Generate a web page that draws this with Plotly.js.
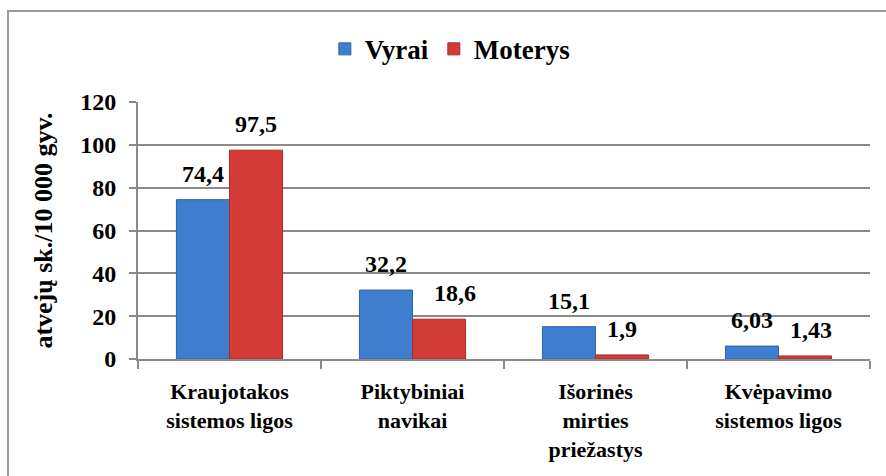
<!DOCTYPE html>
<html>
<head>
<meta charset="utf-8">
<script src="https://cdn.plot.ly/plotly-3.0.1.min.js"></script>
<style>
  html, body { margin: 0; padding: 0; background: #fff; }
  #wrap { position: relative; width: 886px; height: 476px; overflow: hidden; }
  #chart { position: absolute; left: 0; top: 0; width: 886px; height: 476px; }
  #frame { position: absolute; left: 7px; top: 10px; width: 900px; height: 500px;
           border-left: 2px solid #9a9a9a; border-top: 2px solid #9a9a9a; pointer-events: none; }
</style>
</head>
<body>
<div id="wrap">
  <div id="chart"></div>
  <div id="frame"></div>
</div>
<script>
const categories = [
  "Kraujotakos<br>sistemos ligos",
  "Piktybiniai<br>navikai",
  "Išorinės<br>mirties<br>priežastys",
  "Kvėpavimo<br>sistemos ligos"
];
const seriesNames = ["Vyrai", "Moterys"];
const vyrai = [74.4, 32.2, 15.1, 6.03];
const moterys = [97.5, 18.6, 1.9, 1.43];
const yTicks = [0, 20, 40, 60, 80, 100, 120];

const FONT = '"Liberation Serif", "Times New Roman", serif';
const BLUE = '#3f7dcf';
const RED = '#d23b36';

function fmt(v) { return String(v).replace('.', ','); }

const traces = [
  { type: 'bar', name: seriesNames[0], x: categories, y: vyrai,
    marker: { color: BLUE, line: { color: '#2f62a8', width: 1 } }, hoverinfo: 'skip' },
  { type: 'bar', name: seriesNames[1], x: categories, y: moterys,
    marker: { color: RED, line: { color: '#a82c28', width: 1 } }, hoverinfo: 'skip' }
];

const annotations = [];
const extraShift = [[0,0],[0,16],[0,0],[0,6]];
[vyrai, moterys].forEach((arr, s) => {
  arr.forEach((v, i) => {
    annotations.push({
      x: categories[i], y: v, xref: 'x', yref: 'y',
      text: '<b>' + fmt(v) + '</b>', showarrow: false,
      xanchor: 'center', yanchor: 'bottom',
      xshift: (s === 0 ? -26.5 : 26.5) + extraShift[i][s], yshift: 11,
      font: { family: FONT, size: 24, color: '#000' }
    });
  });
});

const layout = {
  width: 886, height: 476,
  margin: { l: 138, r: 16, t: 102, b: 117 },
  paper_bgcolor: 'rgba(0,0,0,0)',
  plot_bgcolor: 'rgba(0,0,0,0)',
  font: { family: FONT, color: '#000' },
  barmode: 'group',
  bargap: 0.42,
  bargroupgap: 0,
  showlegend: true,
  legend: {
    orientation: 'h', x: 0.426, xanchor: 'center', y: 1.205, yanchor: 'middle',
    font: { family: FONT, size: 27, color: '#000', weight: 'bold' },
    itemwidth: 30, tracegroupgap: 0
  },
  xaxis: {
    type: 'category',
    tickfont: { family: FONT, size: 22, color: '#000', weight: 'bold' },
    showline: true, linecolor: '#8a8a8a', linewidth: 2,
    ticks: 'outside', tickson: 'boundaries', ticklen: 8, tickcolor: '#8a8a8a', tickwidth: 2,
    ticklabelstandoff: 12,
    showgrid: false, fixedrange: true
  },
  yaxis: {
    range: [0, 120],
    tickvals: yTicks,
    ticktext: yTicks.map(String),
    tickfont: { family: FONT, size: 24, color: '#000', weight: 'bold' },
    showline: true, linecolor: '#8a8a8a', linewidth: 2,
    ticks: 'outside', ticklen: 7, tickcolor: '#8a8a8a', tickwidth: 2,
    ticklabelstandoff: 8,
    showgrid: true, gridcolor: '#8a8a8a', gridwidth: 2,
    zeroline: false,
    title: { text: 'atvejų sk./10 000 gyv.', standoff: 20,
             font: { family: FONT, size: 26, color: '#000', weight: 'bold' } },
    fixedrange: true
  },
  annotations: annotations
};

Plotly.newPlot('chart', traces, layout, { staticPlot: true, displayModeBar: false });
</script>
</body>
</html>
